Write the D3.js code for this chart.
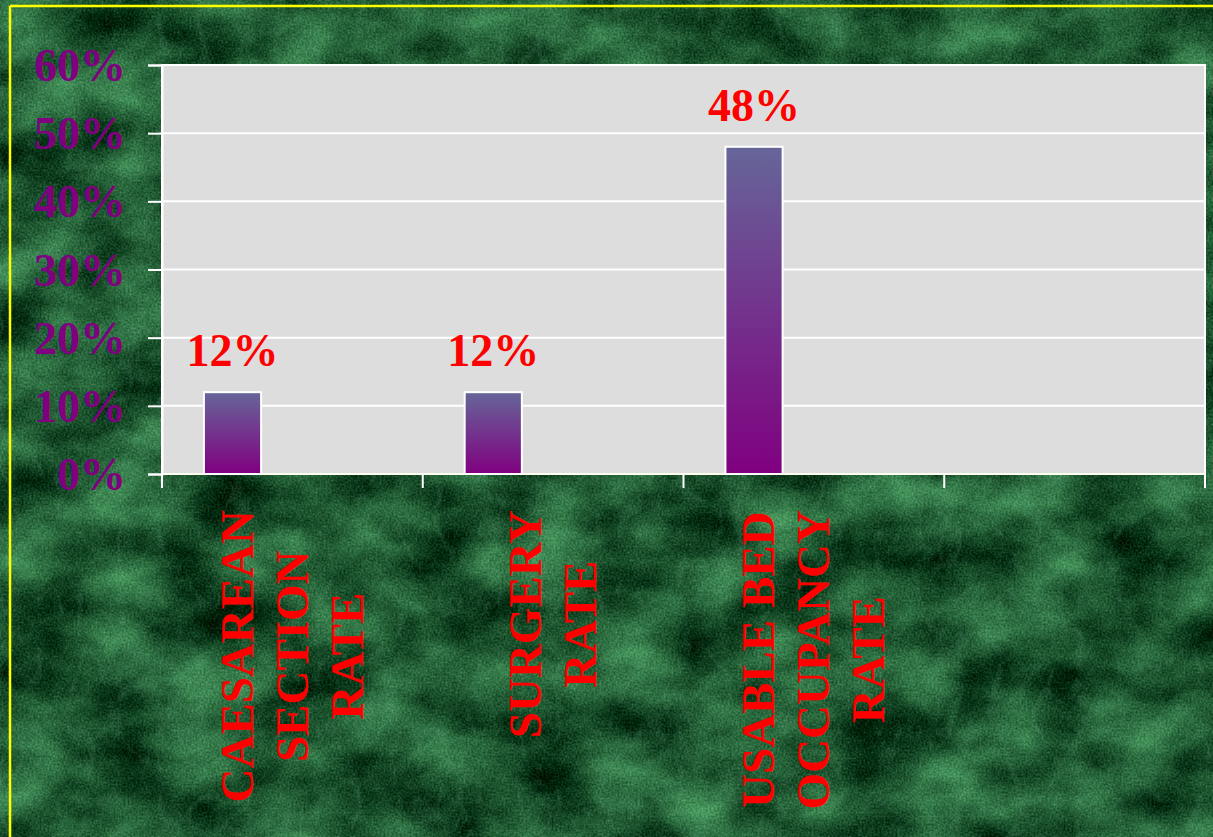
<!DOCTYPE html>
<html>
<head>
<meta charset="utf-8">
<script src="https://cdn.jsdelivr.net/npm/d3@7"></script>
<style>
  html, body { margin: 0; padding: 0; background: #1e5532; overflow: hidden; }
  svg { display: block; }
  text { font-family: "Times New Roman", "Liberation Serif", "DejaVu Serif", serif; font-weight: bold; }
</style>
</head>
<body>
<script>
// ---- data ----
const categories = ["CAESAREAN SECTION RATE", "SURGERY RATE", "USABLE BED OCCUPANCY RATE", ""];
const categoryLines = [["CAESAREAN", "SECTION", "RATE"], ["SURGERY", "RATE"], ["USABLE BED", "OCCUPANCY", "RATE"], []];
const values = [0.12, 0.12, 0.48, null];
const valueLabels = ["12%", "12%", "48%", ""];
const yTicks = [0, 0.1, 0.2, 0.3, 0.4, 0.5, 0.6];
const yTickLabels = ["0%", "10%", "20%", "30%", "40%", "50%", "60%"];
const clusterSlots = [0, 1, 2];

// ---- layout ----
const W = 1213, H = 837;
const plot = { left: 162, right: 1205, top: 65, bottom: 474 };

const svg = d3.select("body").append("svg").attr("width", W).attr("height", H);
const defs = svg.append("defs");

// marble background filter
const f = defs.append("filter").attr("id", "marble")
  .attr("x", 0).attr("y", 0).attr("width", W).attr("height", H)
  .attr("filterUnits", "userSpaceOnUse")
  .attr("color-interpolation-filters", "sRGB");
f.append("feTurbulence").attr("type", "fractalNoise").attr("baseFrequency", "0.012 0.017")
  .attr("numOctaves", 6).attr("seed", 11).attr("result", "n1");
f.append("feColorMatrix").attr("in", "n1").attr("type", "matrix")
  .attr("values", "0.45 0 0 0 -0.105  0.7 0 0 0 -0.01  0.5 0 0 0 -0.06  0 0 0 0 1")
  .attr("result", "base");
f.append("feTurbulence").attr("type", "turbulence").attr("baseFrequency", "0.025 0.015")
  .attr("numOctaves", 3).attr("seed", 4).attr("result", "v");
f.append("feColorMatrix").attr("in", "v").attr("type", "matrix")
  .attr("values", "0 0 0 0 0.3  0 0 0 0 0.55  0 0 0 0 0.4  -1.6 0 0 0 0.3")
  .attr("result", "veins");
f.append("feComposite").attr("in", "veins").attr("in2", "base").attr("operator", "over").attr("result", "m1");
f.append("feTurbulence").attr("type", "fractalNoise").attr("baseFrequency", "0.5")
  .attr("numOctaves", 1).attr("seed", 3).attr("result", "g");
f.append("feColorMatrix").attr("in", "g").attr("type", "matrix")
  .attr("values", "1 0 0 0 0  1 0 0 0 0  1 0 0 0 0  0 0 0 0 1").attr("result", "grain");
f.append("feComposite").attr("in", "m1").attr("in2", "grain").attr("operator", "arithmetic")
  .attr("k1", 0).attr("k2", 1).attr("k3", 0.3).attr("k4", -0.15);

svg.append("rect").attr("width", W).attr("height", H).attr("fill", "#1e5532").attr("filter", "url(#marble)");

// yellow frame lines
svg.append("line").attr("x1", 10).attr("x2", W).attr("y1", 6).attr("y2", 6)
  .attr("stroke", "#ffff00").attr("stroke-width", 2.5);
svg.append("line").attr("x1", 10).attr("x2", 10).attr("y1", 6).attr("y2", H)
  .attr("stroke", "#ffff00").attr("stroke-width", 2.5);

// bar gradient
const grad = defs.append("linearGradient").attr("id", "barGrad")
  .attr("x1", 0).attr("y1", 0).attr("x2", 0).attr("y2", 1);
grad.append("stop").attr("offset", "0%").attr("stop-color", "#666699");
grad.append("stop").attr("offset", "100%").attr("stop-color", "#800080");

// ---- scales ----
const x = d3.scaleBand().domain(categories.map((d, i) => i)).range([plot.left, plot.right]).padding(0);
const x1 = d3.scaleBand().domain(clusterSlots).range([0, x.bandwidth()]).paddingInner(0).paddingOuter(0.78).align(0.47);
const y = d3.scaleLinear().domain([0, 0.6]).range([plot.bottom, plot.top]);

// plot area
svg.append("rect").attr("x", plot.left).attr("y", plot.top)
  .attr("width", plot.right - plot.left).attr("height", plot.bottom - plot.top)
  .attr("fill", "#dddddd").attr("stroke", "#ffffff").attr("stroke-width", 2);

// gridlines
svg.append("g").selectAll("line").data(yTicks).join("line")
  .attr("x1", plot.left).attr("x2", plot.right)
  .attr("y1", d => y(d)).attr("y2", d => y(d))
  .attr("stroke", "#ffffff").attr("stroke-width", 2);

// y axis
const yAxis = d3.axisLeft(y).tickValues(yTicks)
  .tickFormat((d, i) => yTickLabels[i]).tickSize(14).tickPadding(22);
const gy = svg.append("g").attr("transform", `translate(${plot.left},0)`).call(yAxis);
gy.select(".domain").attr("stroke", "#ffffff").attr("stroke-width", 2);
gy.selectAll(".tick line").attr("stroke", "#ffffff").attr("stroke-width", 2);
gy.selectAll(".tick text").attr("fill", "#800080").attr("font-size", 46)
  .attr("font-family", "'Times New Roman', 'Liberation Serif', serif").attr("font-weight", "bold")
  .attr("dy", "0.34em");

// x axis
const boundaries = categories.map((d, i) => x(i)).concat([x.range()[1]]);
const gx = svg.append("g");
gx.append("line").attr("x1", plot.left).attr("x2", plot.right)
  .attr("y1", plot.bottom).attr("y2", plot.bottom)
  .attr("stroke", "#fffff0").attr("stroke-width", 2);
gx.selectAll("line.tk").data(boundaries).join("line").attr("class", "tk")
  .attr("x1", d => d).attr("x2", d => d)
  .attr("y1", plot.bottom).attr("y2", plot.bottom + 14)
  .attr("stroke", "#ffffff").attr("stroke-width", 2);

// bars
const barData = values.map((v, i) => ({ i, v })).filter(d => d.v != null);
svg.append("g").selectAll("rect").data(barData).join("rect")
  .attr("x", d => x(d.i) + x1(0))
  .attr("width", x1.bandwidth())
  .attr("y", d => y(d.v))
  .attr("height", d => y(0) - y(d.v))
  .attr("fill", "url(#barGrad)")
  .attr("stroke", "#ffffff").attr("stroke-width", 2);

// value labels
svg.append("g").selectAll("text").data(barData).join("text")
  .attr("x", d => x(d.i) + x1(0) + x1.bandwidth() / 2)
  .attr("y", d => y(d.v) - 26)
  .attr("text-anchor", "middle")
  .attr("fill", "#ff0000").attr("font-size", 46)
  .text(d => valueLabels[d.i]);

// category labels (rotated, multi-line, centered)
const labelTop = 510, lineGap = 55, catFont = 47;
categoryLines.forEach((lines, i) => {
  if (!lines.length) return;
  const cx = x(i) + x.bandwidth() / 2;
  const t = svg.append("text")
    .attr("transform", `translate(${cx},${labelTop}) rotate(-90)`)
    .attr("fill", "#ff0000").attr("font-size", catFont).attr("text-anchor", "middle");
  const spans = lines.map((ln, k) => t.append("tspan")
    .attr("y", (k - (lines.length - 1) / 2) * lineGap + catFont * 0.33)
    .text(ln));
  let maxW = 0;
  spans.forEach(s => { maxW = Math.max(maxW, s.node().getComputedTextLength()); });
  spans.forEach(s => s.attr("x", -maxW / 2));
});
</script>
</body>
</html>
